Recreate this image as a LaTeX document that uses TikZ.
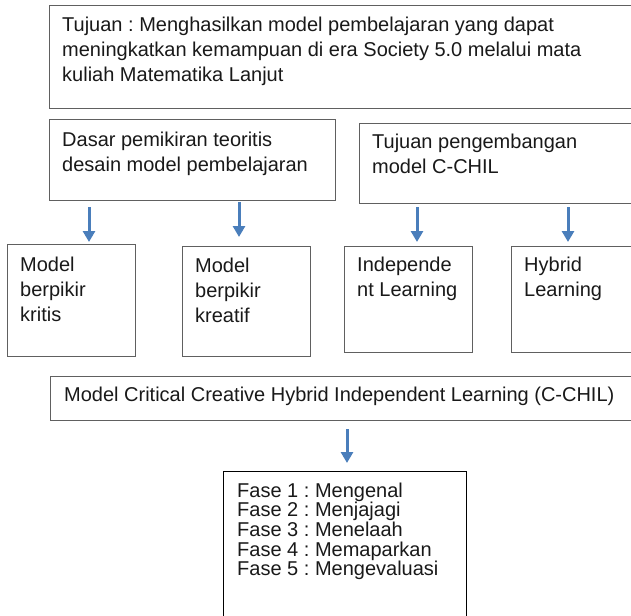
\documentclass[tikz,border=0pt]{standalone}
\usepackage{fontspec}
\setmainfont{Liberation Sans}
\usepackage{xcolor}
\usepackage{tikz}
\usetikzlibrary{arrows.meta}
\definecolor{boxgray}{RGB}{96,96,96}
\definecolor{arrowblue}{RGB}{74,126,187}
\frenchspacing

\begin{document}
\begin{tikzpicture}[x=1pt,y=-1pt,
  box/.style={draw=boxgray, line width=1pt, anchor=north west, inner sep=0pt},
  txt/.style={anchor=north west, align=left, inner sep=0pt, text=black!90, font=\fontsize{20}{25}\selectfont},
  arr/.style={arrowblue, line width=3pt, -{Triangle[width=12pt,length=11pt]}}]
\useasboundingbox (0,0) rectangle (631,615);
\clip (0,0) rectangle (631,615);
% boxes
\node[box, minimum width=610pt, minimum height=103pt] (tujuan) at (49,5) {};
\node[box, minimum width=286pt, minimum height=81pt] (dasar) at (49,119) {};
\node[box, minimum width=300pt, minimum height=80pt] (tujuandev) at (359,123) {};
\node[box, minimum width=128pt, minimum height=112pt] (kritis) at (7,244) {};
\node[box, minimum width=128pt, minimum height=110pt] (kreatif) at (182,246) {};
\node[box, minimum width=128pt, minimum height=106pt] (indep) at (344,246) {};
\node[box, minimum width=150pt, minimum height=106pt] (hybrid) at (511,246) {};
\node[box, minimum width=610pt, minimum height=44pt] (chil) at (50,376) {};
\node[box, draw=black, minimum width=243pt, minimum height=160pt] (fase) at (223,471) {};
% texts (top of first line)
\node[txt] (tujuan-t) at (62,17.2) {Tujuan : Menghasilkan model pembelajaran yang dapat\\meningkatkan kemampuan di era Society 5.0 melalui mata\\kuliah Matematika Lanjut};
\node[txt] (dasar-t) at (62,132.2) {Dasar pemikiran teoritis\\desain model pembelajaran};
\node[txt] (tujuandev-t) at (372,133.7) {Tujuan pengembangan\\model C-CHIL};
\node[txt] (kritis-t) at (20,256.7) {Model\\berpikir\\kritis};
\node[txt] (kreatif-t) at (195,257.7) {Model\\berpikir\\kreatif};
\node[txt] (indep-t) at (357,256.7) {Independe\\nt Learning};
\node[txt] (hybrid-t) at (524,256.7) {Hybrid\\Learning};
\node[txt] (chil-t) at (64,386.5) {Model Critical Creative Hybrid Independent Learning (C-CHIL)};
\node[txt, font=\fontsize{20}{19.6}\selectfont] (fase-t) at (237,482.7) {Fase 1 : Mengenal\\Fase 2 : Menjajagi\\Fase 3 : Menelaah\\Fase 4 : Memaparkan\\Fase 5 : Mengevaluasi};
% arrows
\coordinate (a1) at (89,207);  \coordinate (b1) at (89,242);
\coordinate (a2) at (239,202); \coordinate (b2) at (239,237);
\coordinate (a3) at (417,207); \coordinate (b3) at (417,242);
\coordinate (a4) at (568,207); \coordinate (b4) at (568,242);
\coordinate (a5) at (347,429); \coordinate (b5) at (347,463);
\draw[arr] (a1) -- (b1);
\draw[arr] (a2) -- (b2);
\draw[arr] (a3) -- (b3);
\draw[arr] (a4) -- (b4);
\draw[arr] (a5) -- (b5);
\end{tikzpicture}
\end{document}
